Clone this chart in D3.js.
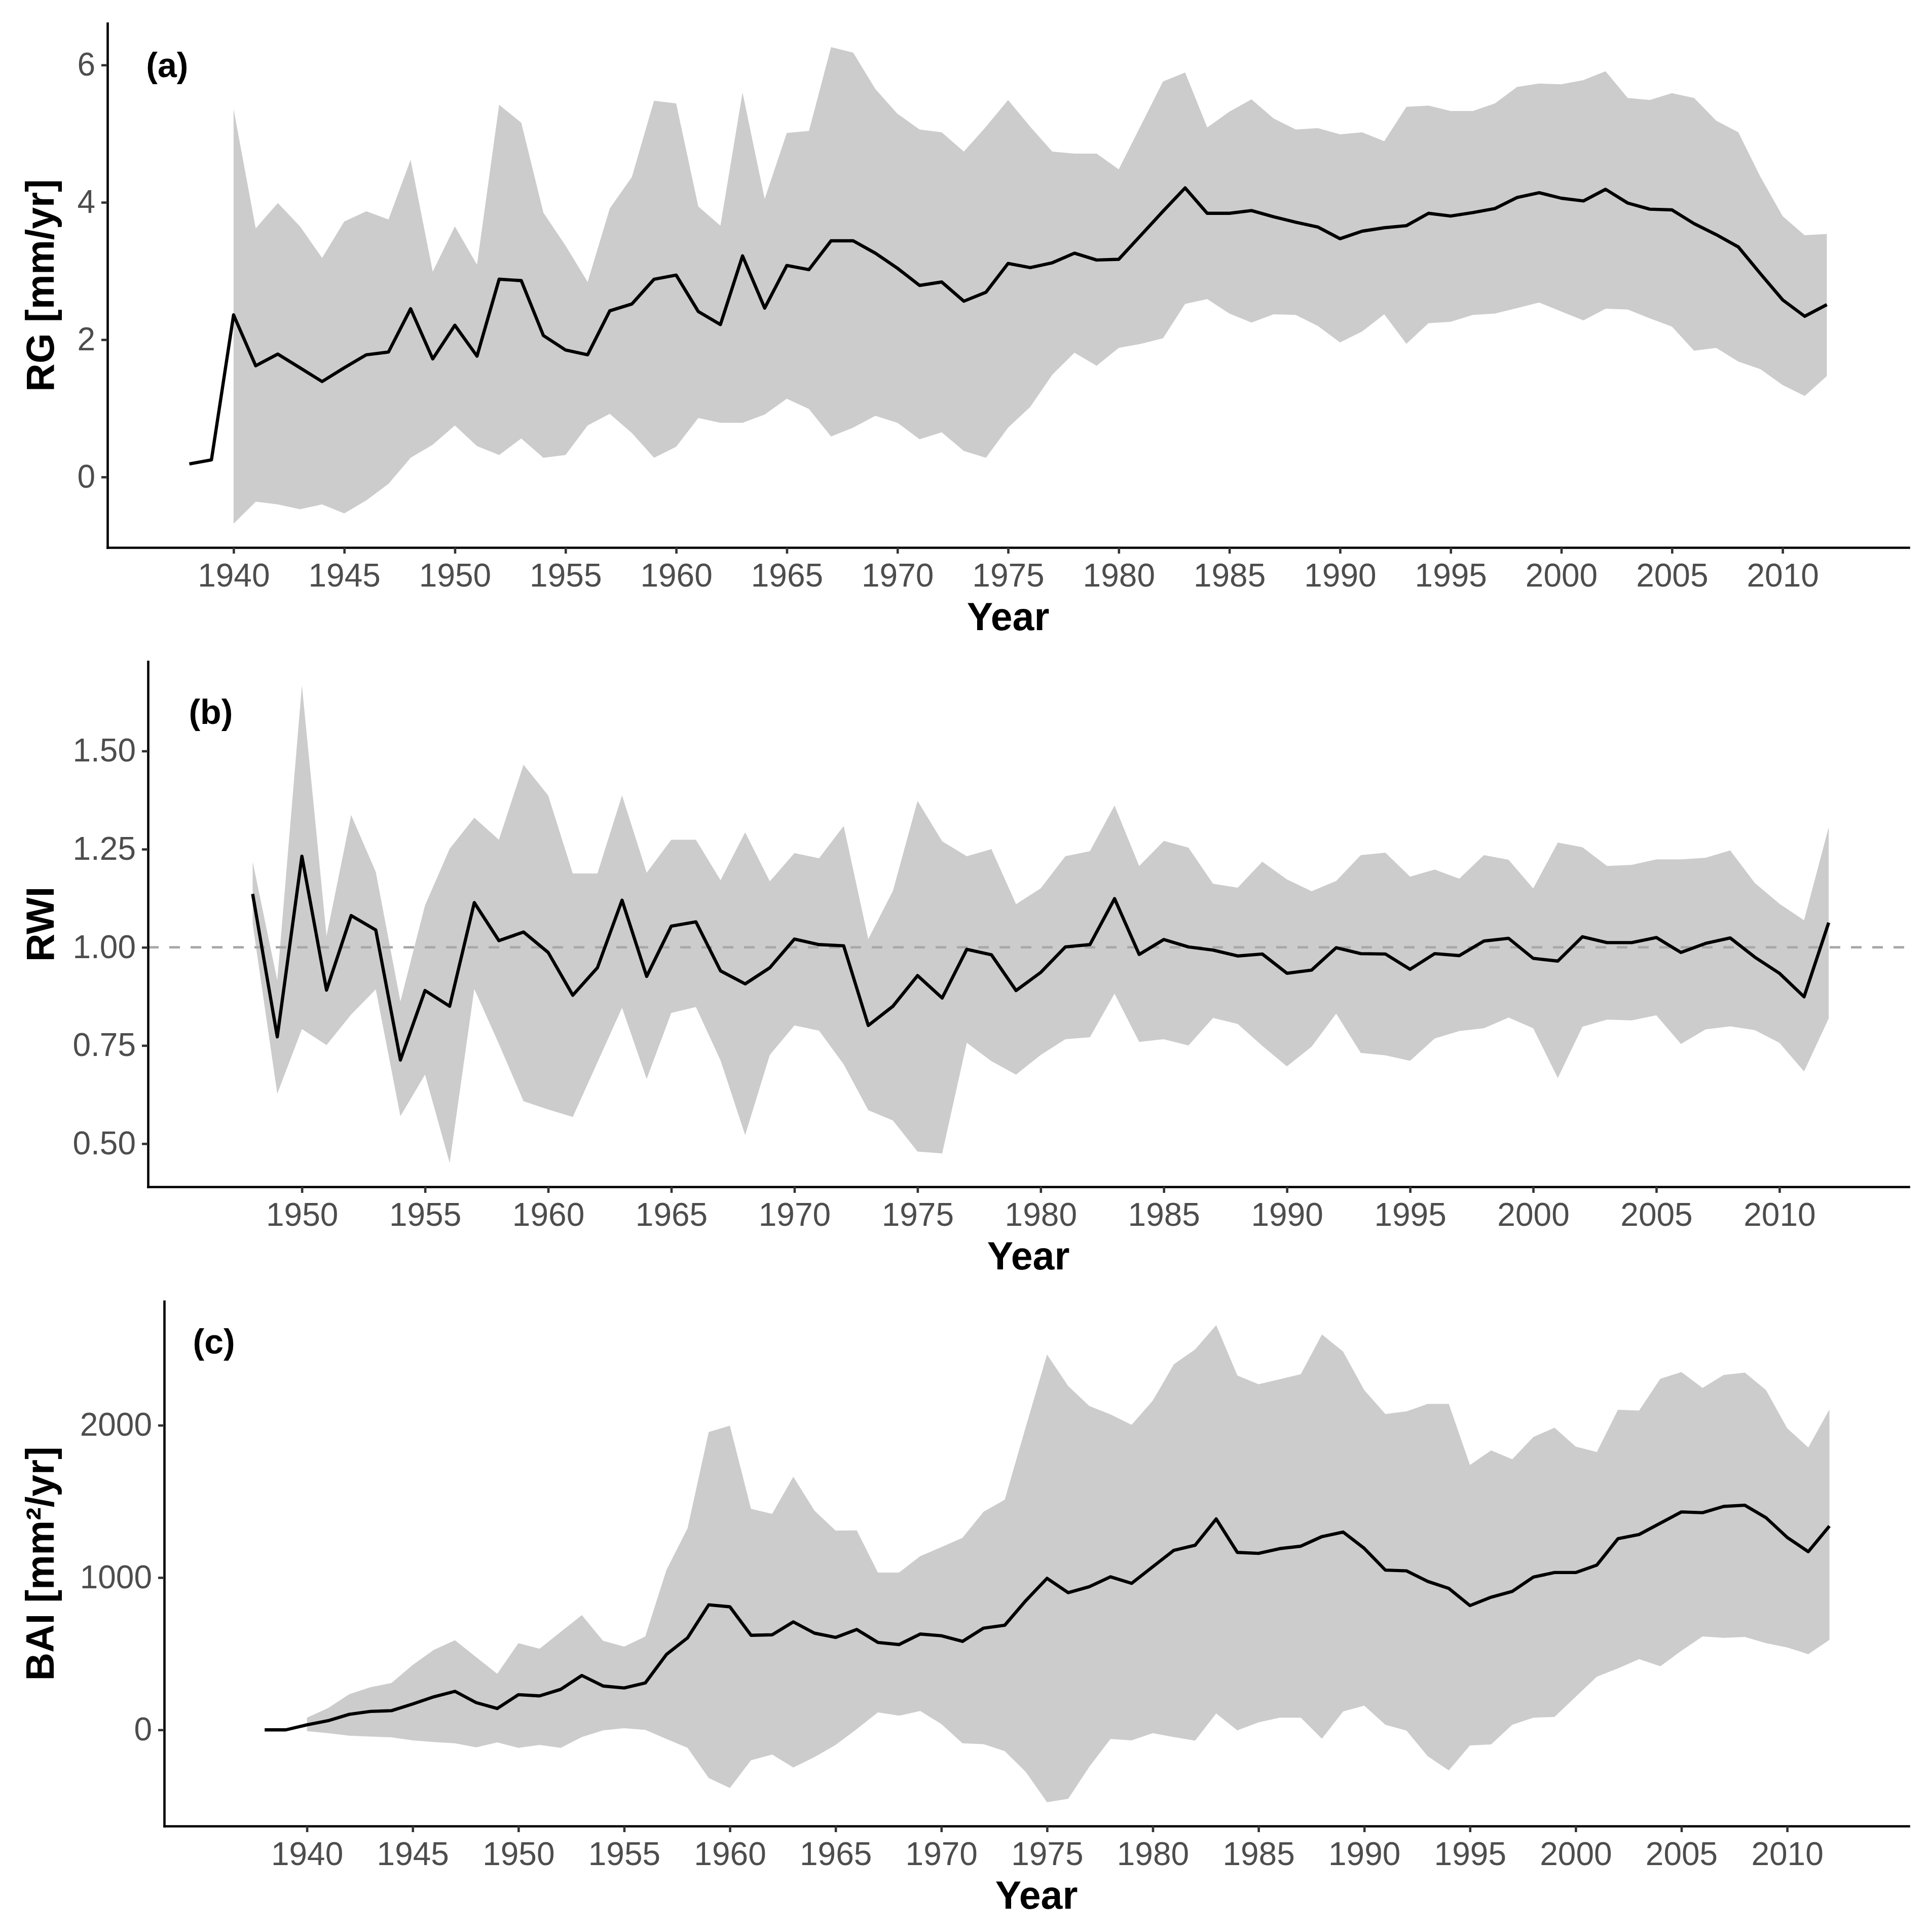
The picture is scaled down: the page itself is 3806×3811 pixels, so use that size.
<!DOCTYPE html>
<html>
<head>
<meta charset="utf-8">
<script src="https://cdn.jsdelivr.net/npm/d3@7"></script>
<style>
  html, body { margin: 0; padding: 0; background: #ffffff; }
  svg { display: block; }
</style>
</head>
<body>
<script>
// ---------------- DATA ----------------
// Panel (a) RG [mm/yr]
const yearsA = [1938,1939,1940,1941,1942,1943,1944,1945,1946,1947,1948,1949,1950,1951,1952,1953,1954,1955,1956,1957,1958,1959,1960,1961,1962,1963,1964,1965,1966,1967,1968,1969,1970,1971,1972,1973,1974,1975,1976,1977,1978,1979,1980,1981,1982,1983,1984,1985,1986,1987,1988,1989,1990,1991,1992,1993,1994,1995,1996,1997,1998,1999,2000,2001,2002,2003,2004,2005,2006,2007,2008,2009,2010,2011,2012];
const meanA = [0.19,0.25,2.36,1.62,1.79,1.59,1.39,1.59,1.78,1.82,2.45,1.72,2.21,1.76,2.88,2.86,2.06,1.85,1.78,2.42,2.52,2.88,2.94,2.41,2.22,3.22,2.46,3.08,3.02,3.44,3.44,3.26,3.04,2.79,2.84,2.56,2.69,3.11,3.05,3.12,3.26,3.16,3.17,3.52,3.87,4.21,3.84,3.84,3.88,3.79,3.71,3.64,3.47,3.58,3.63,3.66,3.84,3.80,3.85,3.91,4.07,4.14,4.06,4.02,4.19,3.99,3.90,3.89,3.69,3.53,3.35,2.96,2.58,2.34,2.51];
const bandYearsA = [1940,1941,1942,1943,1944,1945,1946,1947,1948,1949,1950,1951,1952,1953,1954,1955,1956,1957,1958,1959,1960,1961,1962,1963,1964,1965,1966,1967,1968,1969,1970,1971,1972,1973,1974,1975,1976,1977,1978,1979,1980,1981,1982,1983,1984,1985,1986,1987,1988,1989,1990,1991,1992,1993,1994,1995,1996,1997,1998,1999,2000,2001,2002,2003,2004,2005,2006,2007,2008,2009,2010,2011,2012];
const upperA = [5.36,3.62,3.99,3.65,3.19,3.72,3.87,3.75,4.62,2.99,3.65,3.09,5.42,5.16,3.85,3.37,2.84,3.91,4.37,5.48,5.44,3.94,3.66,5.60,4.05,5.01,5.04,6.26,6.18,5.65,5.29,5.06,5.02,4.74,5.10,5.49,5.10,4.74,4.71,4.71,4.48,5.12,5.76,5.89,5.09,5.32,5.50,5.22,5.06,5.08,4.99,5.02,4.89,5.39,5.41,5.33,5.33,5.44,5.68,5.73,5.72,5.78,5.91,5.52,5.49,5.59,5.52,5.19,5.02,4.37,3.80,3.52,3.54];
const lowerA = [-0.68,-0.36,-0.40,-0.47,-0.40,-0.53,-0.34,-0.10,0.28,0.47,0.75,0.45,0.32,0.56,0.28,0.32,0.75,0.92,0.64,0.28,0.44,0.86,0.79,0.79,0.91,1.14,0.99,0.59,0.72,0.89,0.79,0.55,0.65,0.38,0.28,0.72,1.02,1.49,1.81,1.62,1.88,1.94,2.02,2.52,2.59,2.38,2.25,2.37,2.36,2.20,1.96,2.12,2.37,1.94,2.24,2.26,2.36,2.38,2.46,2.54,2.41,2.28,2.45,2.44,2.31,2.19,1.84,1.88,1.68,1.57,1.34,1.18,1.47];

// Panel (b) RWI
const yearsB = [1948,1949,1950,1951,1952,1953,1954,1955,1956,1957,1958,1959,1960,1961,1962,1963,1964,1965,1966,1967,1968,1969,1970,1971,1972,1973,1974,1975,1976,1977,1978,1979,1980,1981,1982,1983,1984,1985,1986,1987,1988,1989,1990,1991,1992,1993,1994,1995,1996,1997,1998,1999,2000,2001,2002,2003,2004,2005,2006,2007,2008,2009,2010,2011,2012];
const meanB = [1.136,0.772,1.232,0.891,1.081,1.044,0.713,0.890,0.850,1.114,1.017,1.039,0.987,0.878,0.948,1.120,0.926,1.054,1.065,0.940,0.907,0.948,1.021,1.007,1.004,0.801,0.850,0.928,0.871,0.995,0.981,0.890,0.936,1.001,1.007,1.124,0.982,1.020,1.001,0.993,0.978,0.983,0.934,0.942,0.999,0.984,0.983,0.944,0.984,0.979,1.016,1.023,0.972,0.965,1.027,1.012,1.012,1.025,0.987,1.010,1.024,0.975,0.934,0.874,1.063];
const upperB = [1.218,0.916,1.667,1.029,1.337,1.192,0.862,1.107,1.251,1.330,1.274,1.465,1.387,1.188,1.188,1.387,1.190,1.274,1.274,1.171,1.293,1.168,1.240,1.227,1.309,1.021,1.144,1.373,1.270,1.232,1.250,1.110,1.150,1.232,1.245,1.361,1.207,1.271,1.254,1.162,1.152,1.218,1.173,1.143,1.169,1.235,1.241,1.180,1.198,1.175,1.235,1.223,1.150,1.267,1.255,1.207,1.210,1.224,1.224,1.228,1.247,1.164,1.111,1.069,1.306];
const lowerB = [1.060,0.627,0.792,0.751,0.829,0.893,0.570,0.676,0.451,0.894,0.754,0.608,0.587,0.568,0.707,0.846,0.665,0.833,0.848,0.712,0.522,0.726,0.801,0.788,0.702,0.585,0.559,0.480,0.475,0.757,0.710,0.676,0.726,0.766,0.771,0.882,0.759,0.766,0.750,0.820,0.805,0.749,0.697,0.747,0.831,0.731,0.725,0.711,0.768,0.787,0.794,0.821,0.794,0.667,0.798,0.816,0.814,0.827,0.754,0.791,0.799,0.789,0.757,0.684,0.819];
const refLineB = 1.0;

// Panel (c) BAI [mm²/yr]
const yearsC = yearsA.slice();
const meanC = [0,0,33,60,102,121,126,170,217,253,179,140,231,223,266,357,288,275,308,495,604,821,808,621,624,709,635,607,659,574,560,629,618,581,668,687,849,995,901,940,1005,962,1071,1179,1212,1385,1165,1159,1190,1206,1269,1299,1192,1049,1044,975,929,816,871,909,1003,1033,1033,1082,1255,1283,1357,1431,1426,1467,1475,1393,1264,1170,1338];
const bandYearsC = bandYearsA.slice();
const upperC = [80,143,234,280,308,426,525,588,478,368,569,533,643,753,585,547,613,1049,1324,1956,1997,1451,1418,1662,1440,1308,1310,1033,1033,1140,1200,1261,1432,1511,1992,2464,2258,2126,2071,2003,2162,2401,2497,2657,2327,2269,2302,2335,2596,2484,2231,2074,2091,2140,2140,1739,1835,1777,1923,1984,1860,1824,2102,2096,2305,2349,2245,2330,2346,2231,1981,1854,2104];
const lowerC = [-8,-22,-38,-44,-49,-69,-80,-88,-115,-82,-118,-99,-118,-47,-3,11,0,-60,-118,-316,-382,-200,-162,-247,-179,-99,5,115,93,124,38,-88,-94,-140,-277,-475,-453,-242,-60,-69,-22,-47,-71,107,-3,49,80,80,-58,121,159,33,-5,-173,-266,-102,-96,33,80,85,217,349,404,464,418,519,613,604,610,569,541,497,591];

// Ticks and labels
const xTicksAC = [1940,1945,1950,1955,1960,1965,1970,1975,1980,1985,1990,1995,2000,2005,2010];
const xTicksB = [1950,1955,1960,1965,1970,1975,1980,1985,1990,1995,2000,2005,2010];
const yTicksA = [0,2,4,6];
const yTicksB = [0.50,0.75,1.00,1.25,1.50];
const yTicksC = [0,1000,2000];
const xLimitsA = [1938, 2012];
const xLimitsB = [1947, 2012];
const xLimitsC = [1937, 2012];
const yTitles = ["RG [mm/yr]", "RWI", "BAI [mm\u00B2/yr]"];
const xTitle = "Year";
const panelLabels = ["(a)", "(b)", "(c)"];
const panelLabelPos = [[1937.0, 6.0], [1946.3, 1.6], [1935.6, 2550]];

// ---------------- LAYOUT ----------------
const W = 3806, H = 3811;
const FONT = "'Liberation Sans', Arial, Helvetica, sans-serif";
const panels = [
  { left: 212, right: 3766, top: 46,   bottom: 1080, xLim: xLimitsA, xTicks: xTicksAC, yTicks: yTicksA, yFmt: d3.format("d"),
    years: yearsA, mean: meanA, bandYears: bandYearsA, upper: upperA, lower: lowerA, ref: null },
  { left: 292, right: 3766, top: 1305, bottom: 2341, xLim: xLimitsB, xTicks: xTicksB, yTicks: yTicksB, yFmt: d3.format(".2f"),
    years: yearsB, mean: meanB, bandYears: yearsB, upper: upperB, lower: lowerB, ref: refLineB },
  { left: 324, right: 3766, top: 2567, bottom: 3602, xLim: xLimitsC, xTicks: xTicksAC, yTicks: yTicksC, yFmt: d3.format("d"),
    years: yearsC, mean: meanC, bandYears: bandYearsC, upper: upperC, lower: lowerC, ref: null }
];

function expand(lim) {
  const r = lim[1] - lim[0];
  return [lim[0] - 0.05 * r, lim[1] + 0.05 * r];
}

const svg = d3.select("body").append("svg")
  .attr("width", W).attr("height", H)
  .attr("viewBox", `0 0 ${W} ${H}`);
svg.append("rect").attr("width", W).attr("height", H).attr("fill", "#ffffff");

panels.forEach((p, i) => {
  const yAll = p.upper.concat(p.lower, p.mean);
  const x = d3.scaleLinear().domain(expand(p.xLim)).range([p.left, p.right]);
  const y = d3.scaleLinear().domain(expand(d3.extent(yAll))).range([p.bottom, p.top]);

  const g = svg.append("g");

  // ribbon
  const bandData = p.bandYears.map((yr, k) => ({ yr, lo: p.lower[k], hi: p.upper[k] }));
  g.append("path")
    .datum(bandData)
    .attr("fill", "#cccccc")
    .attr("stroke", "none")
    .attr("d", d3.area().x(d => x(d.yr)).y0(d => y(d.lo)).y1(d => y(d.hi)));

  // reference line
  if (p.ref !== null) {
    g.append("line")
      .attr("x1", p.left).attr("x2", p.right)
      .attr("y1", y(p.ref)).attr("y2", y(p.ref))
      .attr("stroke", "#a8a8a8").attr("stroke-width", 4.8)
      .attr("stroke-dasharray", "21 21");
  }

  // mean line
  const lineData = p.years.map((yr, k) => ({ yr, v: p.mean[k] }));
  g.append("path")
    .datum(lineData)
    .attr("fill", "none")
    .attr("stroke", "#000000")
    .attr("stroke-width", 6.4)
    .attr("stroke-linejoin", "round")
    .attr("d", d3.line().x(d => x(d.yr)).y(d => y(d.v)));

  // axes
  const xAxis = d3.axisBottom(x).tickValues(p.xTicks).tickFormat(d3.format("d"))
    .tickSize(12).tickSizeOuter(0).tickPadding(20);
  const gx = g.append("g").attr("transform", `translate(0,${p.bottom})`).call(xAxis);
  const yAxis = d3.axisLeft(y).tickValues(p.yTicks).tickFormat(p.yFmt)
    .tickSize(12).tickSizeOuter(0).tickPadding(12);
  const gy = g.append("g").attr("transform", `translate(${p.left},0)`).call(yAxis);

  [gx, gy].forEach(ax => {
    ax.select(".domain").attr("stroke", "#000000").attr("stroke-width", 4.6)
      .attr("stroke-linecap", "square");
    ax.selectAll(".tick line").attr("stroke", "#333333").attr("stroke-width", 4.6);
    ax.selectAll(".tick text").attr("fill", "#4d4d4d")
      .style("font-family", FONT).style("font-size", "64px");
  });
  gx.attr("font-family", null).attr("font-size", null);
  gy.attr("font-family", null).attr("font-size", null);

  // x title
  g.append("text")
    .attr("x", (p.left + p.right) / 2)
    .attr("y", p.bottom + 163)
    .attr("text-anchor", "middle")
    .style("font-family", FONT).style("font-size", "77px").style("font-weight", "bold")
    .attr("fill", "#000000")
    .text(xTitle);

  // y title
  g.append("text")
    .attr("transform", `translate(106,${(p.top + p.bottom) / 2}) rotate(-90)`)
    .attr("text-anchor", "middle")
    .style("font-family", FONT).style("font-size", "77px").style("font-weight", "bold")
    .attr("fill", "#000000")
    .text(yTitles[i]);

  // panel label
  g.append("text")
    .attr("x", x(panelLabelPos[i][0]))
    .attr("y", y(panelLabelPos[i][1]))
    .attr("dy", "0.35em")
    .attr("text-anchor", "middle")
    .style("font-family", FONT).style("font-size", "68px").style("font-weight", "bold")
    .attr("fill", "#000000")
    .text(panelLabels[i]);
});
</script>
</body>
</html>
